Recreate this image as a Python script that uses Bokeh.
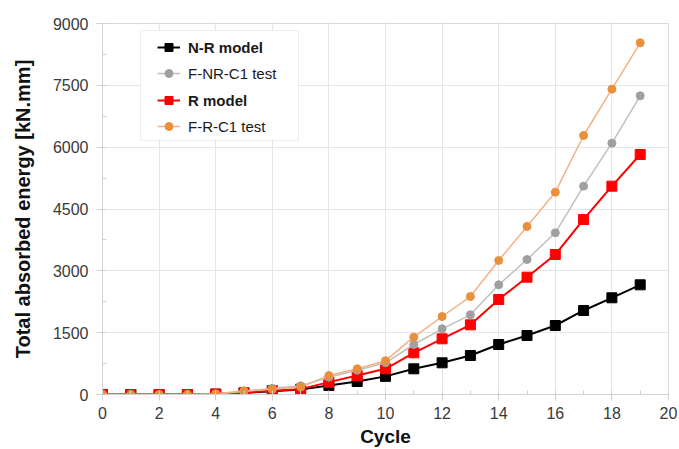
from bokeh.plotting import figure
from bokeh.models import Legend, LegendItem, BoxAnnotation, FixedTicker, Range1d
from bokeh.embed import file_html
from bokeh.resources import INLINE

# Cumulative absorbed energy per loading cycle [kN.mm]
cycles = list(range(20))
nr_model = [0, 0, 0, 0, 10, 40, 80, 120, 220, 315, 440, 623, 769, 946, 1213, 1431, 1674, 2038, 2346, 2661]
fnr_test = [0, 0, 0, 0, 15, 70, 150, 210, 420, 590, 770, 1213, 1593, 1933, 2661, 3275, 3922, 5054, 6097, 7246]
r_model = [0, 0, 0, 0, 10, 40, 97, 130, 300, 460, 623, 1011, 1351, 1690, 2305, 2846, 3396, 4246, 5054, 5822]
fr_test = [0, 0, 0, 0, 15, 90, 125, 180, 460, 623, 820, 1391, 1892, 2377, 3251, 4076, 4908, 6283, 7407, 8532]

y_ticks = [0, 1500, 3000, 4500, 6000, 7500, 9000]
x_ticks = list(range(0, 21, 2))

FONT = "Liberation Sans"

p = figure(width=679, height=449, output_backend="svg", toolbar_location=None,
           x_range=Range1d(0, 20), y_range=Range1d(0, 9000),
           min_border_left=102, min_border_right=11, min_border_top=23, min_border_bottom=55)

p.outline_line_color = "#d9d9d9"
p.outline_line_width = 1

p.xgrid.ticker = FixedTicker(ticks=x_ticks)
p.ygrid.ticker = FixedTicker(ticks=y_ticks)
for g in (p.xgrid, p.ygrid):
    g.grid_line_color = "#e6e6e6"
    g.grid_line_width = 1

p.xaxis.ticker = FixedTicker(ticks=x_ticks, minor_ticks=list(range(0, 21)))
p.yaxis.ticker = FixedTicker(ticks=y_ticks, minor_ticks=list(range(0, 9001, 750)))

for ax in (p.xaxis, p.yaxis):
    ax.axis_line_color = "#d0d0d0"
    ax.major_tick_line_color = "#d0d0d0"
    ax.minor_tick_line_color = "#d0d0d0"
    ax.major_tick_out = 6
    ax.major_tick_in = 0
    ax.minor_tick_in = 4
    ax.minor_tick_out = 0
    ax.major_label_text_font = FONT
    ax.major_label_text_font_size = "16px"
    ax.major_label_text_color = "#3a3a3a"
    ax.axis_label_text_font = FONT
    ax.axis_label_text_font_style = "bold"
    ax.axis_label_text_color = "#111111"

p.xaxis.axis_label = "Cycle"
p.yaxis.axis_label = "Total absorbed energy [kN.mm]"
p.xaxis.axis_label_text_font_size = "19px"
p.yaxis.axis_label_text_font_size = "20px"
p.xaxis.major_label_standoff = 6
p.yaxis.major_label_standoff = 8
p.xaxis.axis_label_standoff = 4
p.yaxis.axis_label_standoff = 16

# Series, drawn back to front
nr_l = p.line(cycles, nr_model, line_color="#000000", line_width=2)
nr_m = p.scatter(cycles, nr_model, marker="square", size=10, fill_color="#000000", line_color="#000000")

r_l = p.line(cycles, r_model, line_color="#ff0000", line_width=2)
r_m = p.scatter(cycles, r_model, marker="square", size=10, fill_color="#ff0000", line_color="#ff0000")

fnr_l = p.line(cycles, fnr_test, line_color="#bfbfbf", line_width=1.5)
fnr_m = p.scatter(cycles, fnr_test, marker="circle", size=8, fill_color="#a0a0a0", line_color="#a0a0a0")

fr_l = p.line(cycles, fr_test, line_color="#f4b183", line_width=1.5)
fr_m = p.scatter(cycles, fr_test, marker="circle", size=8, fill_color="#e8903c", line_color="#e8903c")

# Legend frame
p.add_layout(BoxAnnotation(left=38, right=196, top=364, bottom=254,
                           left_units="screen", right_units="screen",
                           top_units="screen", bottom_units="screen",
                           fill_color="white", fill_alpha=1.0,
                           line_color="#c8c8c8", line_width=1))

entries = [
    ("N-R model", [nr_l, nr_m], "bold", 337),
    ("F-NR-C1 test", [fnr_l, fnr_m], "normal", 311),
    ("R model", [r_l, r_m], "bold", 284),
    ("F-R-C1 test", [fr_l, fr_m], "normal", 258),
]
for label, rends, style, ybot in entries:
    lg = Legend(items=[LegendItem(label=label, renderers=rends)], location=(55, ybot),
                padding=0, margin=0, spacing=0, border_line_alpha=0, background_fill_alpha=0,
                glyph_width=23, glyph_height=20, label_height=20, label_standoff=8,
                label_text_font=FONT, label_text_font_size="15px",
                label_text_font_style=style, label_text_color="#1a1a1a")
    p.add_layout(lg, "center")

open("out.html", "w").write(file_html(p, INLINE))
